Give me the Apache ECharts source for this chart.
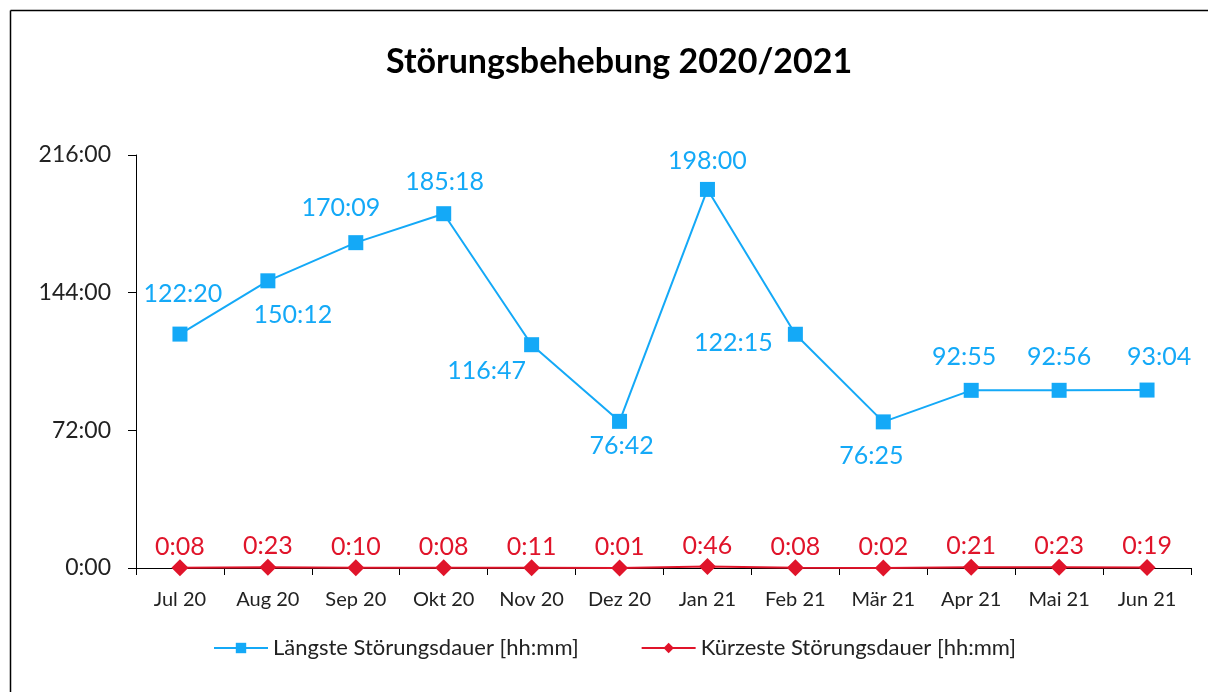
<!DOCTYPE html>
<html>
<head>
<meta charset="utf-8">
<script src="https://cdn.jsdelivr.net/npm/echarts@6/dist/echarts.min.js"></script>
<style>
  html, body { margin: 0; padding: 0; background: #fff; }
  #main { width: 1208px; height: 692px; }
</style>
</head>
<body>
<div id="main"></div>
<script>
var months = ['Jul 20', 'Aug 20', 'Sep 20', 'Okt 20', 'Nov 20', 'Dez 20', 'Jan 21', 'Feb 21', 'Mär 21', 'Apr 21', 'Mai 21', 'Jun 21'];
// Dauer als hh:mm
var laengste = ['122:20', '150:12', '170:09', '185:18', '116:47', '76:42', '198:00', '122:15', '76:25', '92:55', '92:56', '93:04'];
var kuerzeste = ['0:08', '0:23', '0:10', '0:08', '0:11', '0:01', '0:46', '0:08', '0:02', '0:21', '0:23', '0:19'];
var yTicks = [0, 72, 144, 216];

function toHours(s) {
    var p = s.split(':');
    return Number(p[0]) + Number(p[1]) / 60;
}
function fmt(h) {
    var m = Math.round(h * 60);
    var mm = m % 60;
    return Math.floor(m / 60) + ':' + (mm < 10 ? '0' : '') + mm;
}

// label offsets for the blue series, relative to marker
var blueOffsets = [[3,-40],[25,34],[-15,-35],[1,-32],[-45,26],[2,25],[0,-28],[-62,9],[-12,34],[-7,-33],[0,-33],[12,-33]];

var font = 'Lato, "Open Sans", sans-serif';
var blue = '#14a9f7';
var red = '#e0142a';

var myChart = echarts.init(document.getElementById('main'));

var option = {
    backgroundColor: '#fff',
    animation: false,
    title: {
        text: 'Störungsbehebung 2020/2021',
        left: 381,
        top: 40,
        textStyle: { fontFamily: font, fontSize: 34, fontWeight: 'bold', color: '#000' }
    },
    graphic: [
        { type: 'line', shape: { x1: 10.5, y1: 10.5, x2: 1208, y2: 10.5 }, style: { stroke: '#000', lineWidth: 1.5 } },
        { type: 'line', shape: { x1: 10.5, y1: 10.5, x2: 10.5, y2: 692 }, style: { stroke: '#000', lineWidth: 1.5 } }
    ],
    legend: {
        bottom: 28,
        left: 208,
        itemGap: 62,
        itemWidth: 54,
        itemHeight: 13,
        textStyle: { fontFamily: font, fontSize: 22, color: '#222' },
        data: ['Längste Störungsdauer [hh:mm]', 'Kürzeste Störungsdauer [hh:mm]']
    },
    grid: { left: 136, right: 17, top: 155, bottom: 124 },
    xAxis: {
        type: 'category',
        data: months,
        boundaryGap: true,
        axisLine: { lineStyle: { color: '#000', width: 1 } },
        axisTick: { show: true, length: 7, interval: 0, lineStyle: { color: '#000' } },
        axisLabel: { fontFamily: font, fontSize: 20, color: '#222', margin: 22, interval: 0 }
    },
    yAxis: {
        type: 'value',
        min: yTicks[0],
        max: yTicks[yTicks.length - 1],
        interval: yTicks[1] - yTicks[0],
        splitLine: { show: false },
        axisLine: { show: true, lineStyle: { color: '#000', width: 1 } },
        axisTick: { show: true, length: 8, lineStyle: { color: '#000' } },
        axisLabel: { fontFamily: font, fontSize: 23, color: '#222', margin: 25, formatter: function (v) { return fmt(v); } }
    },
    series: [
        {
            name: 'Längste Störungsdauer [hh:mm]',
            type: 'line',
            symbol: 'rect',
            symbolSize: 15,
            lineStyle: { color: blue, width: 2 },
            itemStyle: { color: blue },
            data: laengste.map(function (s, i) {
                return {
                    value: toHours(s),
                    label: { show: true, position: 'inside', offset: blueOffsets[i], formatter: s,
                        fontFamily: font, fontSize: 25, color: blue }
                };
            })
        },
        {
            name: 'Kürzeste Störungsdauer [hh:mm]',
            type: 'line',
            symbol: 'diamond',
            symbolSize: 17,
            lineStyle: { color: red, width: 2 },
            itemStyle: { color: red },
            data: kuerzeste.map(function (s) {
                return {
                    value: toHours(s),
                    label: { show: true, position: 'inside', offset: [0, -21], formatter: s,
                        fontFamily: font, fontSize: 25, color: red }
                };
            })
        }
    ]
};

myChart.setOption(option);
</script>
</body>
</html>
